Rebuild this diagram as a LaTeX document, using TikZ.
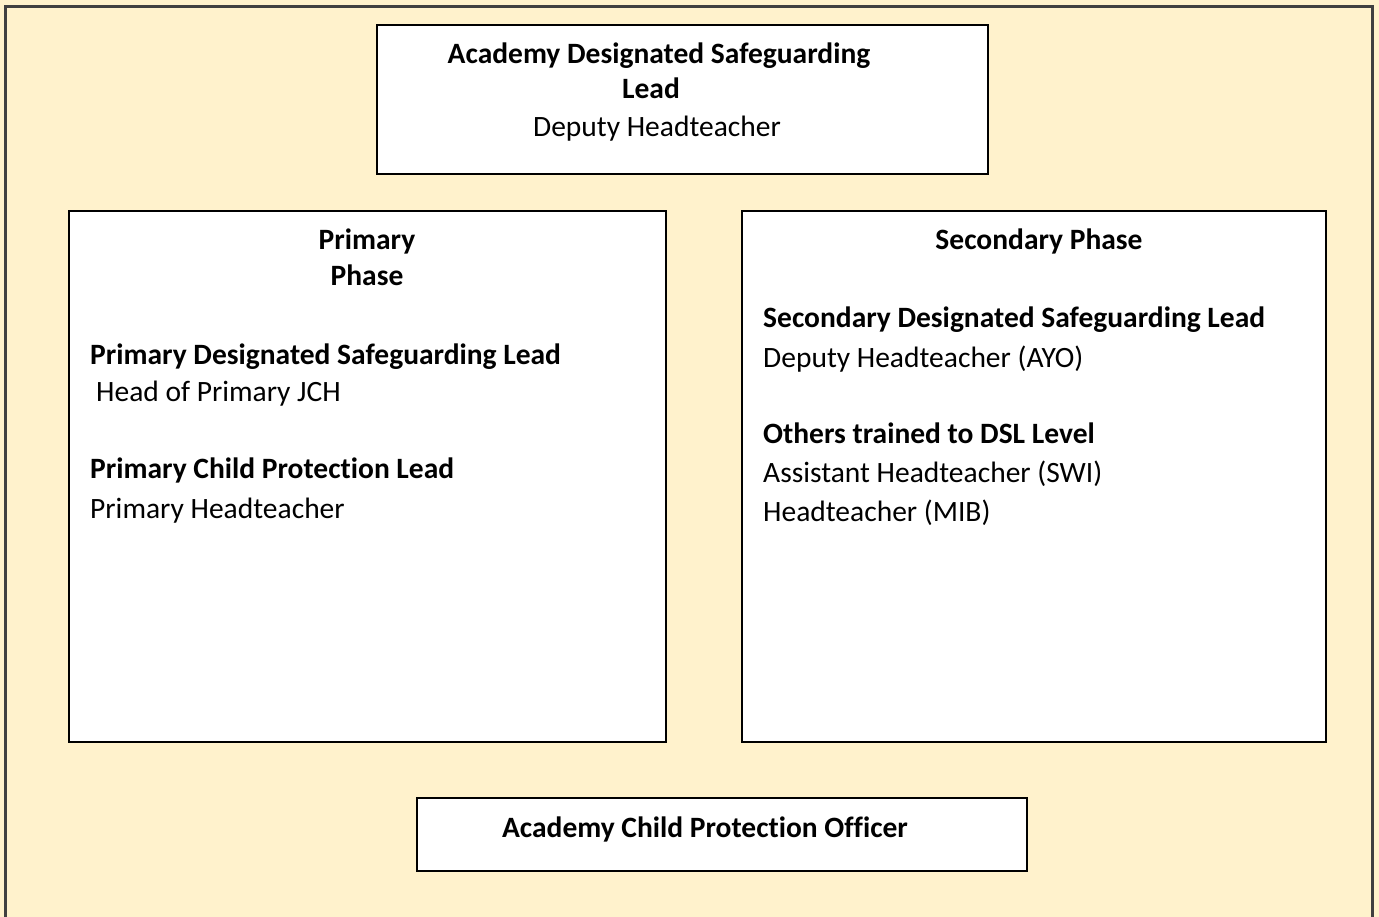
\documentclass[tikz,border=0pt]{standalone}
\usepackage{fontspec}
\setmainfont[Ligatures=NoCommon]{Carlito}
\definecolor{bgyellow}{HTML}{FFF2CC}
\begin{document}
\begin{tikzpicture}[x=1pt,y=-1pt,
  box/.style={draw=black,line width=1.4pt,fill=white},
  txt/.style={inner sep=0pt,font=\fontsize{29.5}{39}\selectfont},
  btxt/.style={txt,font=\fontsize{29.5}{39}\selectfont\bfseries}]
\useasboundingbox (0,0) rectangle (1379,917);
\fill[bgyellow] (0,0) rectangle (1379,917);
\draw[line width=2.5pt,black!75] (5.5,917) -- (5.5,6.5) -- (1372.5,6.5) -- (1372.5,917);
% boxes
\draw[box] (377,25) rectangle (988,174);
\draw[box] (69,211) rectangle (666,742);
\draw[box] (742,211) rectangle (1326,742);
\draw[box] (417,798) rectangle (1027,871);
% top
\node[btxt,anchor=base] (t1) at (659,64) {Academy Designated Safeguarding};
\node[btxt,anchor=base] (t2) at (651,99) {Lead};
\node[txt,anchor=base] (t3) at (657,137) {Deputy Headteacher};
% primary
\node[btxt,anchor=base] (p1) at (367,250) {Primary};
\node[btxt,anchor=base] (p2) at (367,286) {Phase};
\node[btxt,anchor=base west] (p3) at (90,364) {Primary Designated Safeguarding Lead};
\node[txt,anchor=base west] (p4) at (96,401) {Head of Primary JCH};
\node[btxt,anchor=base west] (p5) at (90,478) {Primary Child Protection Lead};
\node[txt,anchor=base west] (p6) at (90,518) {Primary Headteacher};
% secondary
\node[btxt,anchor=base] (s1) at (1039,250) {Secondary Phase};
\node[btxt,anchor=base west] (s2) at (763,328) {Secondary Designated Safeguarding Lead};
\node[txt,anchor=base west] (s3) at (763,367) {Deputy Headteacher (AYO)};
\node[btxt,anchor=base west] (s4) at (763,443) {Others trained to DSL Level};
\node[txt,anchor=base west] (s5) at (763,482) {Assistant Headteacher (SWI)};
\node[txt,anchor=base west] (s6) at (763,521) {Headteacher (MIB)};
% bottom
\node[btxt,anchor=base] (b1) at (705,837) {Academy Child Protection Officer};
\end{tikzpicture}
\end{document}
